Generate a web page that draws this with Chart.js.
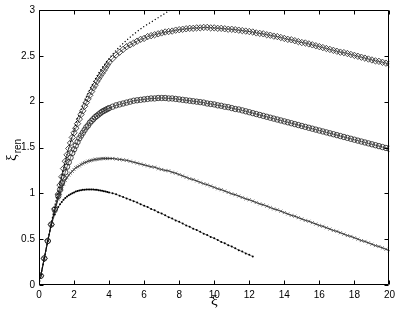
<!DOCTYPE html>
<html>
<head>
<meta charset="utf-8">
<script src="https://cdn.jsdelivr.net/npm/chart.js"></script>
<style>
  html, body { margin: 0; padding: 0; background: #fff; }
  #wrap { width: 399px; height: 312px; }
</style>
</head>
<body>
<div id="wrap"><canvas id="c" width="399" height="312"></canvas></div>
<script>
// ---- data ----
const xi = [0.1,0.3,0.5,0.7,0.9,1.1,
  1.2,1.3,1.4,1.5,1.6,1.7,1.8,1.9,2.0,2.1,2.2,2.3,2.4,2.5,2.6,2.7,2.8,2.9,3.0,3.1,3.2,3.3,3.4,3.5,3.6,3.7,3.8,3.9,4.0,
  4.2,4.4,4.6,4.8,5.0,5.2,5.4,5.6,5.8,6.0,6.2,6.4,6.6,6.8,7.0,7.2,7.4,7.6,7.8,8.0,
  8.2,8.4,8.6,8.8,9.0,9.2,9.4,9.6,9.8,10.0,10.2,10.4,10.6,10.8,11.0,11.2,11.4,11.6,11.8,12.0,
  12.2,12.4,12.6,12.8,13.0,13.2,13.4,13.6,13.8,14.0,14.2,14.4,14.6,14.8,15.0,15.2,15.4,15.6,15.8,16.0,
  16.2,16.4,16.6,16.8,17.0,17.2,17.4,17.6,17.8,18.0,18.2,18.4,18.6,18.8,19.0,19.2,19.4,19.6,19.8,20.0];

const xiRenDiamond = [0.10,0.29,0.48,0.66,0.83,0.99,
  1.09,1.18,1.27,1.35,1.42,1.49,1.55,1.61,1.66,1.71,1.76,1.81,1.86,1.90,1.95,1.99,2.03,2.07,2.11,2.15,2.18,2.22,2.25,2.28,2.31,2.34,2.37,2.40,2.43,
  2.47,2.51,2.54,2.57,2.60,2.62,2.64,2.66,2.68,2.69,2.71,2.72,2.73,2.74,2.75,2.76,2.765,2.77,2.78,2.785,
  2.79,2.795,2.80,2.80,2.805,2.805,2.81,2.81,2.805,2.805,2.80,2.80,2.795,2.79,2.79,2.785,2.78,2.775,2.77,2.765,
  2.76,2.75,2.745,2.74,2.73,2.725,2.715,2.71,2.70,2.69,2.68,2.675,2.665,2.655,2.645,2.64,2.63,2.62,2.61,2.60,
  2.59,2.58,2.57,2.56,2.55,2.54,2.535,2.525,2.515,2.505,2.495,2.485,2.475,2.465,2.455,2.445,2.44,2.43,2.42,2.41];

const xiRenCircle = [0.10,0.29,0.48,0.66,0.82,0.97,
  1.04,1.11,1.17,1.23,1.29,1.34,1.39,1.44,1.48,1.52,1.56,1.60,1.63,1.66,1.69,1.72,1.74,1.77,1.79,1.81,1.83,1.845,1.86,1.875,1.89,1.90,1.91,1.92,1.93,
  1.945,1.96,1.97,1.98,1.99,2.00,2.01,2.015,2.02,2.025,2.03,2.035,2.035,2.04,2.04,2.04,2.035,2.035,2.03,2.025,
  2.02,2.015,2.01,2.005,2.0,1.995,1.99,1.98,1.975,1.97,1.96,1.955,1.945,1.94,1.93,1.92,1.915,1.905,1.895,1.885,
  1.875,1.865,1.855,1.845,1.835,1.825,1.815,1.805,1.795,1.785,1.775,1.765,1.755,1.745,1.735,1.725,1.715,1.705,1.695,1.685,
  1.675,1.665,1.655,1.645,1.635,1.625,1.615,1.605,1.595,1.585,1.575,1.565,1.555,1.545,1.535,1.525,1.515,1.505,1.495,1.485];

const xiRenCross = [0.10,0.29,0.48,0.66,0.81,0.94,
  1.00,1.05,1.10,1.14,1.17,1.20,1.22,1.24,1.26,1.28,1.29,1.30,1.315,1.325,1.335,1.34,1.35,1.355,1.36,1.365,1.37,1.37,1.375,1.375,1.38,1.38,1.38,1.38,1.38,
  1.38,1.375,1.37,1.365,1.36,1.35,1.34,1.33,1.32,1.31,1.30,1.29,1.285,1.27,1.26,1.25,1.245,1.23,1.22,1.205,
  1.19,1.175,1.16,1.15,1.135,1.12,1.105,1.095,1.08,1.065,1.05,1.04,1.025,1.01,0.995,0.985,0.97,0.955,0.94,0.93,
  0.915,0.90,0.885,0.875,0.86,0.845,0.83,0.82,0.805,0.79,0.775,0.76,0.75,0.735,0.72,0.705,0.695,0.68,0.665,0.65,
  0.64,0.625,0.61,0.595,0.585,0.57,0.555,0.54,0.53,0.515,0.50,0.485,0.475,0.46,0.445,0.43,0.42,0.405,0.39,0.375];

const xiRenDot = [0.10,0.29,0.48,0.65,0.77,0.85,
  0.88,0.905,0.93,0.95,0.965,0.98,0.99,1.00,1.01,1.02,1.025,1.03,1.035,1.038,1.04,1.042,1.043,1.043,1.043,1.042,1.04,1.038,1.035,1.032,1.028,1.024,1.02,1.015,1.01,
  1.00,0.99,0.975,0.96,0.945,0.93,0.915,0.90,0.88,0.865,0.85,0.83,0.815,0.795,0.78,0.76,0.74,0.725,0.705,0.69,
  0.67,0.65,0.635,0.615,0.60,0.58,0.56,0.545,0.525,0.51,0.49,0.47,0.455,0.435,0.42,0.40,0.38,0.365,0.345,0.33,
  0.31];

const xiLimit    = [0, 0.5, 1.0, 1.5, 2.0, 2.5, 3.0, 3.5, 4.0, 4.5, 5.0, 5.5, 6.0, 6.5, 7.0, 7.5, 8.0];
const xiRenLimit = [0, 0.48, 0.95, 1.35, 1.70, 1.96, 2.17, 2.34, 2.47, 2.58, 2.67, 2.75, 2.82, 2.88, 2.94, 3.00, 3.05];

const xTicks = [0,2,4,6,8,10,12,14,16,18,20];
const yTicks = [0,0.5,1,1.5,2,2.5,3];

// ---- build ----
const pairs = (xs, ys) => ys.map((v, i) => ({ x: xs[i], y: v }));
const INK = '#000';

const framePlugin = {
  id: 'frame',
  afterDatasetsDraw(chart) {
    const { ctx, chartArea: a, scales: { x, y } } = chart;
    const L = Math.round(a.left) + 0.5, R = Math.round(a.right) - 0.5;
    const T = Math.round(a.top) + 0.5, B = Math.round(a.bottom) - 0.5;
    const tl = 4;
    ctx.save();
    ctx.strokeStyle = INK;
    ctx.lineWidth = 1;
    ctx.beginPath();
    ctx.rect(L, T, R - L, B - T);
    xTicks.forEach(v => {
      const px = Math.round(x.getPixelForValue(v)) + 0.5;
      ctx.moveTo(px, B); ctx.lineTo(px, B - tl);
      ctx.moveTo(px, T); ctx.lineTo(px, T + tl);
    });
    yTicks.forEach(v => {
      const py = Math.round(y.getPixelForValue(v)) + 0.5;
      ctx.moveTo(L, py); ctx.lineTo(L + tl, py);
      ctx.moveTo(R, py); ctx.lineTo(R - tl, py);
    });
    ctx.stroke();

    // axis titles
    ctx.fillStyle = INK;
    ctx.textAlign = 'center';
    ctx.textBaseline = 'alphabetic';
    ctx.font = '15px "Liberation Serif", "DejaVu Serif", serif';
    ctx.fillText('ξ', (a.left + a.right) / 2, 305);

    ctx.translate(16, 161);
    ctx.rotate(-Math.PI / 2);
    ctx.textAlign = 'left';
    ctx.font = '15px "Liberation Serif", "DejaVu Serif", serif';
    ctx.fillText('ξ', 0, 0);
    const w = ctx.measureText('ξ').width;
    ctx.font = '10px "Liberation Sans", Arial, sans-serif';
    ctx.fillText('ren', w + 1, 5);
    ctx.restore();
  }
};

const tickFont = { family: '"Liberation Sans", Arial, sans-serif', size: 10 };

new Chart(document.getElementById('c'), {
  type: 'scatter',
  data: {
    datasets: [
      { label: 'limit', data: pairs(xiLimit, xiRenLimit), showLine: true, borderColor: INK, borderWidth: 1.2,
        borderDash: [1.2, 2.2], pointRadius: 0, cubicInterpolationMode: 'monotone' },
      { label: 'diamond', data: pairs(xi, xiRenDiamond), showLine: true, borderColor: '#222', borderWidth: 0.7,
        pointStyle: 'rectRot', pointRadius: 3.2, pointBorderWidth: 0.8, pointBorderColor: '#222', pointBackgroundColor: 'rgba(0,0,0,0)' },
      { label: 'circle', data: pairs(xi, xiRenCircle), showLine: true, borderColor: '#222', borderWidth: 0.7,
        pointStyle: 'circle', pointRadius: 2.7, pointBorderWidth: 0.8, pointBorderColor: '#222', pointBackgroundColor: 'rgba(0,0,0,0)' },
      { label: 'cross', data: pairs(xi, xiRenCross), showLine: true, borderColor: INK, borderWidth: 0.8,
        pointStyle: 'crossRot', pointRadius: 2.2, pointBorderWidth: 0.7, pointBorderColor: '#444' },
      { label: 'dot', data: pairs(xi, xiRenDot), showLine: true, borderColor: '#222', borderWidth: 0.6,
        pointStyle: 'circle', pointRadius: 1, pointBorderWidth: 0, pointBackgroundColor: INK }
    ]
  },
  options: {
    responsive: false,
    animation: false,
    devicePixelRatio: 1,
    layout: { padding: { top: 9, right: 9, left: 0, bottom: 0 } },
    plugins: { legend: { display: false }, tooltip: { enabled: false } },
    events: [],
    scales: {
      x: {
        type: 'linear', min: 0, max: 20,
        afterFit: s => { s.height = 27; },
        afterBuildTicks: s => { s.ticks = xTicks.map(v => ({ value: v })); },
        grid: { display: false, drawTicks: false },
        border: { display: false },
        ticks: { color: INK, font: tickFont, padding: 4, maxRotation: 0, autoSkip: false,
                 callback: v => String(v) }
      },
      y: {
        type: 'linear', min: 0, max: 3,
        afterFit: s => { s.width = 39; },
        afterBuildTicks: s => { s.ticks = yTicks.map(v => ({ value: v })); },
        grid: { display: false, drawTicks: false },
        border: { display: false },
        ticks: { color: INK, font: tickFont, padding: 4, autoSkip: false,
                 callback: v => String(v) }
      }
    }
  },
  plugins: [framePlugin]
});
</script>
</body>
</html>
